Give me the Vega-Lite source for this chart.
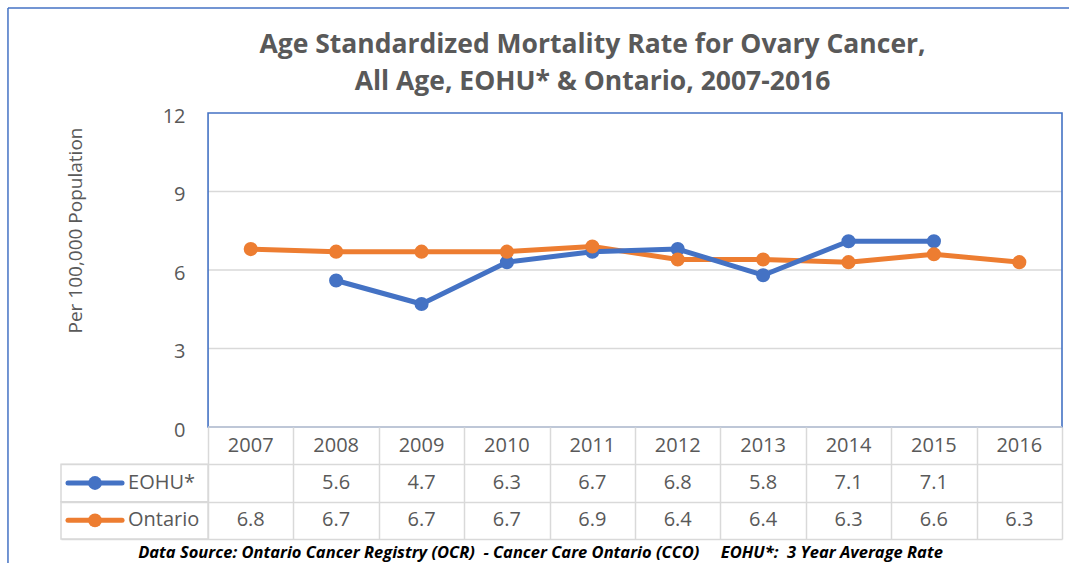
{
  "$schema": "https://vega.github.io/schema/vega-lite/v6.json",
  "padding": {"left": 7, "top": 7, "right": 5, "bottom": 5},
  "config": {"view": {"stroke": null}, "font": "Open Sans"},
  "title": {
    "text": ["Age Standardized Mortality Rate for Ovary Cancer,", "All Age, EOHU* & Ontario, 2007-2016"],
    "fontSize": 26.5, "fontWeight": "bold", "color": "#595959", "font": "Open Sans",
    "lineHeight": 37, "anchor": "middle", "frame": "group", "dx": 31, "offset": -88
  },
  "datasets": {
    "rates": [
      {"year": 2007, "series": "Ontario", "value": 6.8},
      {"year": 2008, "series": "EOHU*", "value": 5.6},
      {"year": 2008, "series": "Ontario", "value": 6.7},
      {"year": 2009, "series": "EOHU*", "value": 4.7},
      {"year": 2009, "series": "Ontario", "value": 6.7},
      {"year": 2010, "series": "EOHU*", "value": 6.3},
      {"year": 2010, "series": "Ontario", "value": 6.7},
      {"year": 2011, "series": "EOHU*", "value": 6.7},
      {"year": 2011, "series": "Ontario", "value": 6.9},
      {"year": 2012, "series": "EOHU*", "value": 6.8},
      {"year": 2012, "series": "Ontario", "value": 6.4},
      {"year": 2013, "series": "EOHU*", "value": 5.8},
      {"year": 2013, "series": "Ontario", "value": 6.4},
      {"year": 2014, "series": "EOHU*", "value": 7.1},
      {"year": 2014, "series": "Ontario", "value": 6.3},
      {"year": 2015, "series": "EOHU*", "value": 7.1},
      {"year": 2015, "series": "Ontario", "value": 6.6},
      {"year": 2016, "series": "Ontario", "value": 6.3}
    ]
  },
  "data": {"name": "rates"},
  "spacing": 0,
  "bounds": "flush",
  "resolve": {"scale": {"x": "independent", "y": "independent"}},
  "vconcat": [
    {
      "width": 1001,
      "height": 314,
      "layer": [
        {
          "data": {"values": [{}]},
          "mark": {"type": "rule", "color": "#d9d9d9", "strokeWidth": 1.5},
          "encoding": {
            "x": {"datum": 2006.5, "type": "quantitative", "scale": {"domain": [2004.778, 2016.5], "nice": false, "zero": false}, "axis": null},
            "x2": {"datum": 2016.5},
            "y": {
              "datum": 9, "type": "quantitative",
              "scale": {"domain": [0, 12], "nice": false, "zero": false},
              "axis": {
                "title": "Per 100,000 Population",
                "values": [0, 3, 6, 9, 12],
                "offset": -147,
                "grid": false, "domain": false, "ticks": false, "tickSize": 0,
                "labelPadding": 23, "labelFontSize": 20, "labelColor": "#595959", "labelFont": "Open Sans",
                "labelBaseline": "middle", "labelOffset": 3,
                "titleFontSize": 19, "titleFontWeight": "normal", "titleColor": "#595959", "titleFont": "Open Sans",
                "titleX": -133, "titleY": 117, "titleBaseline": "middle", "titleAngle": -90, "titleAlign": "center"
              }
            }
          }
        },
        {
          "data": {"values": [{}]},
          "mark": {"type": "rule", "color": "#d9d9d9", "strokeWidth": 1.5},
          "encoding": {
            "x": {"datum": 2006.5, "type": "quantitative"},
            "x2": {"datum": 2016.5},
            "y": {"datum": 6, "type": "quantitative"}
          }
        },
        {
          "data": {"values": [{}]},
          "mark": {"type": "rule", "color": "#d9d9d9", "strokeWidth": 1.5},
          "encoding": {
            "x": {"datum": 2006.5, "type": "quantitative"},
            "x2": {"datum": 2016.5},
            "y": {"datum": 3, "type": "quantitative"}
          }
        },
        {
          "data": {"values": [{}]},
          "mark": {"type": "rect", "fill": "transparent", "stroke": "#4472C4", "strokeWidth": 1.6},
          "encoding": {
            "x": {"datum": 2006.5, "type": "quantitative"},
            "x2": {"datum": 2016.5},
            "y": {"datum": 0, "type": "quantitative"},
            "y2": {"datum": 12}
          }
        },
        {
          "data": {"values": [{}]},
          "mark": {"type": "rule", "color": "#d9d9d9", "strokeWidth": 1.6},
          "encoding": {
            "x": {"datum": 2006.5, "type": "quantitative"},
            "x2": {"datum": 2016.5},
            "y": {"datum": 0, "type": "quantitative"}
          }
        },
        {
          "data": {"values": [{}]},
          "mark": {"type": "rule", "color": "#4472C4", "strokeWidth": 1.5, "clip": false},
          "encoding": {
            "x": {"datum": 2004.157, "type": "quantitative"},
            "x2": {"datum": 2018.5},
            "y": {"datum": 16.013, "type": "quantitative"}
          }
        },
        {
          "data": {"values": [{}]},
          "mark": {"type": "rule", "color": "#4472C4", "strokeWidth": 1.5, "clip": false},
          "encoding": {
            "x": {"datum": 2004.157, "type": "quantitative"},
            "y": {"datum": 16.013, "type": "quantitative"},
            "y2": {"datum": -8}
          }
        },
        {
          "mark": {"type": "line", "strokeWidth": 5, "strokeCap": "round", "strokeJoin": "round"},
          "encoding": {
            "x": {"field": "year", "type": "quantitative"},
            "y": {"field": "value", "type": "quantitative", "title": "Per 100,000 Population"},
            "color": {"field": "series", "type": "nominal", "scale": {"domain": ["EOHU*", "Ontario"], "range": ["#4472C4", "#ED7D31"]}, "legend": null}
          }
        },
        {
          "mark": {"type": "point", "filled": true, "size": 200, "opacity": 1},
          "encoding": {
            "x": {"field": "year", "type": "quantitative"},
            "y": {"field": "value", "type": "quantitative", "title": "Per 100,000 Population"},
            "color": {"field": "series", "type": "nominal", "scale": {"domain": ["EOHU*", "Ontario"], "range": ["#4472C4", "#ED7D31"]}, "legend": null}
          }
        }
      ]
    },
    {
      "width": 1001,
      "height": 112,
      "layer": [
        {
          "transform": [{"filter": {"field": "year", "equal": 2008}}],
          "mark": {"type": "rect", "fill": "transparent", "stroke": "#d9d9d9", "strokeWidth": 1.5},
          "encoding": {
            "x": {
              "datum": 2004.778, "type": "quantitative",
              "scale": {"domain": [2004.778, 2016.5], "nice": false, "zero": false},
              "axis": {
                "values": [2006.5, 2007.5, 2008.5, 2009.5, 2010.5, 2011.5, 2012.5, 2013.5, 2014.5, 2015.5, 2016.5],
                "grid": true, "gridColor": "#d9d9d9", "gridWidth": 1.5,
                "labels": false, "ticks": false, "domain": false,
                "title": "Data Source: Ontario Cancer Registry (OCR)\u00a0\u00a0- Cancer Care Ontario (CCO)\u00a0\u00a0\u00a0\u00a0\u00a0EOHU*:\u00a0\u00a03 Year Average Rate",
                "titleFontSize": 16.5, "titleFontStyle": "italic", "titleFontWeight": "bold", "titleColor": "#000000",
                "titleFont": "Open Sans", "titlePadding": 5, "titleX": 479, "titleAlign": "center"
              }
            },
            "x2": {"datum": 2006.5},
            "y": {
              "field": "series", "type": "nominal",
              "scale": {"domain": ["Year", "EOHU*", "Ontario"], "paddingInner": 0, "paddingOuter": 0},
              "axis": {
                "values": ["EOHU*", "Ontario"], "tickBand": "extent",
                "grid": true, "gridColor": "#d9d9d9", "gridWidth": 1.5,
                "labels": false, "ticks": false, "domain": false, "title": null
              }
            }
          }
        },
        {
          "transform": [{"filter": {"field": "year", "equal": 2008}}],
          "mark": {"type": "rule", "strokeWidth": 5, "strokeCap": "round"},
          "encoding": {
            "x": {"datum": 2004.86, "type": "quantitative"},
            "x2": {"datum": 2005.493},
            "y": {"field": "series", "type": "nominal"},
            "color": {"field": "series", "type": "nominal", "scale": {"domain": ["EOHU*", "Ontario"], "range": ["#4472C4", "#ED7D31"]}, "legend": null}
          }
        },
        {
          "transform": [{"filter": {"field": "year", "equal": 2008}}],
          "mark": {"type": "point", "filled": true, "size": 190, "opacity": 1},
          "encoding": {
            "x": {"datum": 2005.176, "type": "quantitative"},
            "y": {"field": "series", "type": "nominal"},
            "color": {"field": "series", "type": "nominal", "scale": {"domain": ["EOHU*", "Ontario"], "range": ["#4472C4", "#ED7D31"]}, "legend": null}
          }
        },
        {
          "transform": [{"filter": {"field": "year", "equal": 2008}}],
          "mark": {"type": "text", "align": "left", "fontSize": 20, "color": "#595959", "font": "Open Sans"},
          "encoding": {
            "x": {"datum": 2005.563, "type": "quantitative"},
            "y": {"field": "series", "type": "nominal"},
            "text": {"field": "series", "type": "nominal"}
          }
        },
        {
          "transform": [{"filter": {"field": "series", "equal": "Ontario"}}],
          "mark": {"type": "text", "fontSize": 20, "color": "#595959", "font": "Open Sans"},
          "encoding": {
            "x": {"field": "year", "type": "quantitative"},
            "y": {"datum": "Year", "type": "nominal"},
            "text": {"field": "year", "type": "nominal"}
          }
        },
        {
          "mark": {"type": "text", "fontSize": 20, "color": "#595959", "font": "Open Sans"},
          "encoding": {
            "x": {"field": "year", "type": "quantitative"},
            "y": {"field": "series", "type": "nominal"},
            "text": {"field": "value", "type": "quantitative", "format": ".1f"}
          }
        }
      ]
    }
  ]
}
